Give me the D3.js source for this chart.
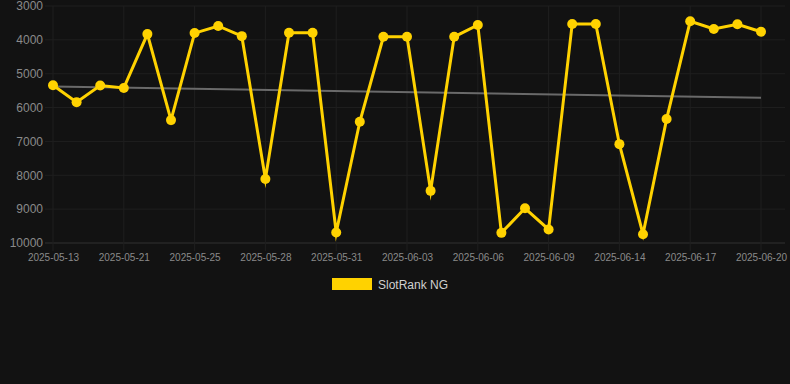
<!DOCTYPE html>
<html>
<head>
<meta charset="utf-8">
<script src="https://cdn.jsdelivr.net/npm/d3@7"></script>
<style>
  html, body { margin: 0; padding: 0; background: #121212; }
  svg { display: block; font-family: "Liberation Sans", Arial, sans-serif; }
</style>
</head>
<body>
<div id="chart"></div>
<script>
// donnees
var dates = ["2025-05-13","2025-05-15","2025-05-18","2025-05-21","2025-05-23","2025-05-24",
  "2025-05-25","2025-05-26","2025-05-27","2025-05-28","2025-05-29","2025-05-30",
  "2025-05-31","2025-06-01","2025-06-02","2025-06-03","2025-06-04","2025-06-05",
  "2025-06-06","2025-06-07","2025-06-08","2025-06-09","2025-06-11","2025-06-12",
  "2025-06-14","2025-06-15","2025-06-16","2025-06-17","2025-06-18","2025-06-19","2025-06-20"];
var ranks = [5340, 5840, 5350, 5420, 3830, 6370, 3800, 3590, 3890, 8110, 3790, 3790,
  9690, 6420, 3910, 3910, 8460, 3910, 3560, 9700, 8975, 9600, 3530, 3530,
  7080, 9740, 6340, 3450, 3680, 3540, 3760];
var trend = [5380, 5710]; // debut / fin de la tendance
var yTicks = [3000, 4000, 5000, 6000, 7000, 8000, 9000, 10000];
var seriesName = "SlotRank NG";

var width = 790, height = 384;
var margin = {top: 6, right: 29, bottom: 141, left: 53};
var w = width - margin.left - margin.right;
var h = height - margin.top - margin.bottom;
var yellow = "#ffd200";

var svg = d3.select("#chart").append("svg")
  .attr("width", width).attr("height", height);

svg.append("rect").attr("width", width).attr("height", height).attr("fill", "#121212");

var x = d3.scalePoint().domain(dates).range([0, w]);
var y = d3.scaleLinear().domain([3000, 10000]).range([0, h]); // rang inverse

var g = svg.append("g").attr("transform", "translate(" + margin.left + "," + margin.top + ")");

// grille horizontale
g.append("g")
  .selectAll("line").data(yTicks).enter().append("line")
  .attr("x1", -8).attr("x2", w + 24)
  .attr("y1", function(d) { return y(d); }).attr("y2", function(d) { return y(d); })
  .attr("stroke", function(d) { return d === 10000 ? "#303030" : "#1f1f1f"; })
  .attr("stroke-width", 1);

// grille verticale, un label sur trois
var shown = dates.filter(function(d, i) { return i % 3 === 0; });
g.append("g")
  .selectAll("line").data(shown).enter().append("line")
  .attr("x1", function(d) { return x(d); }).attr("x2", function(d) { return x(d); })
  .attr("y1", 0).attr("y2", h + 8)
  .attr("stroke", "#1f1f1f").attr("stroke-width", 1);

// axe y
var yAxis = d3.axisLeft(y).tickValues(yTicks).tickSize(0).tickPadding(10).tickFormat(d3.format("d"));
g.append("g").call(yAxis)
  .call(function(s) { s.select(".domain").remove(); })
  .selectAll("text").attr("fill", "#8a8a8a").attr("font-size", 12);

// axe x
var xAxis = d3.axisBottom(x).tickValues(shown).tickSize(0).tickPadding(11);
g.append("g").attr("transform", "translate(0," + h + ")").call(xAxis)
  .call(function(s) { s.select(".domain").remove(); })
  .selectAll("text").attr("fill", "#8a8a8a").attr("font-size", 10);

// tendance
g.append("line")
  .attr("x1", x(dates[0])).attr("x2", x(dates[dates.length - 1]))
  .attr("y1", y(trend[0])).attr("y2", y(trend[1]))
  .attr("stroke", "#6a6a6a").attr("stroke-width", 2);

// serie
var line = d3.line()
  .x(function(d, i) { return x(dates[i]); })
  .y(function(d) { return y(d); });

g.append("path").datum(ranks)
  .attr("d", line)
  .attr("fill", "none")
  .attr("stroke", yellow)
  .attr("stroke-width", 3)
  .attr("stroke-linejoin", "miter")
  .attr("stroke-miterlimit", 10);

g.append("g").selectAll("circle").data(ranks).enter().append("circle")
  .attr("cx", function(d, i) { return x(dates[i]); })
  .attr("cy", function(d) { return y(d); })
  .attr("r", 5)
  .attr("fill", yellow);

// legende
var leg = svg.append("g").attr("transform", "translate(332,278)");
leg.append("rect").attr("width", 40).attr("height", 12).attr("fill", yellow);
leg.append("text").attr("x", 46).attr("y", 10.5)
  .attr("fill", "#d0d0d0").attr("font-size", 12).text(seriesName);
</script>
</body>
</html>
